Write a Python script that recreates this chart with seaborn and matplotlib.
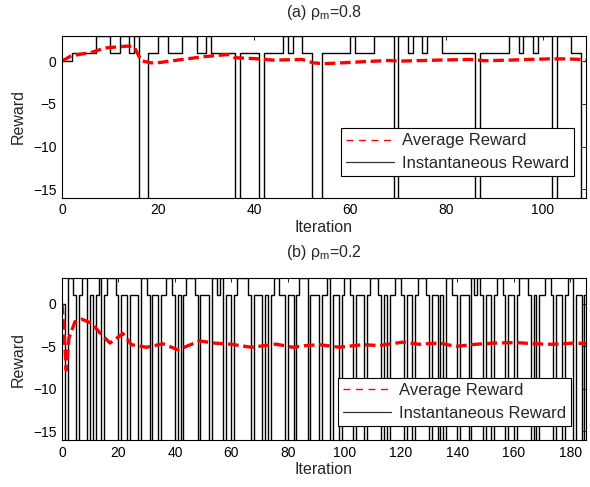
import matplotlib
matplotlib.use("Agg")
import matplotlib.pyplot as plt
import seaborn as sns
import pandas as pd
from matplotlib.lines import Line2D

sns.set_theme(style="white")
plt.rcParams["font.family"] = ["Liberation Sans", "DejaVu Sans"]
plt.rcParams["mathtext.fontset"] = "custom"
plt.rcParams["mathtext.rm"] = "Liberation Sans"
plt.rcParams["mathtext.it"] = "Liberation Sans"

B = -20  # off-scale low reward (clipped)

# ---- (a) rho_m = 0.8 ----
top_inst = [0, 0, 1, 1, 1, 1, 1, 3, 3, 3,
            1, 1, 3, 3, 1, 3, B, B, 1, 1,
            3, 3, 1, 1, 1, 3, 3, 3, 1, 1,
            3, 1, 1, 1, 1, 1, B, 1, 1, 1,
            1, B, 1, 1, 1, 1, 3, 1, 3, 3,
            1, 1, B, B, 1, 1, 1, 1, 1, 1,
            3, 1, 1, 1, 1, 3, 3, 3, 3, B,
            3, 3, 1, 3, 3, 1, 3, 3, 3, 1,
            1, 1, 1, 1, 1, 1, B, 1, 1, 1,
            1, 1, 1, 3, 3, 1, 3, 3, 1, 3,
            3, 3, B, 3, 3, 3, 1, 1, B]
top_avg_x = [0, 2, 6, 9, 13.5, 15, 16.5, 18.5, 20.5, 25, 30, 34.5, 36, 40, 44, 50,
             52.3, 54.5, 58, 65, 68, 70, 78, 85, 88, 93, 97, 101.5, 105, 108, 109]
top_avg_y = [0.0, 0.65, 1.0, 1.55, 1.76, 1.7, 0.05, -0.2, -0.15, 0.2, 0.55, 0.78, 0.4, 0.3, 0.12, 0.2,
             -0.2, -0.3, -0.2, 0.0, 0.08, 0.0, 0.12, 0.2, 0.05, 0.12, 0.2, 0.27, 0.27, 0.2, 0.0]

# ---- (b) rho_m = 0.2 ----
bot_inst = [0, B, 3, 3, 1, B, 1, 3, 3, B,
            1, B, 1, 3, B, 1, 3, 3, 3, 1,
            B, 1, 1, B, 1, 1, 1, B, 3, 3,
            1, B, 1, 1, B, 1, 1, 3, 3, 1,
            B, 1, B, 1, 3, 3, 3, 1, B, 1,
            1, 1, B, 3, 3, 1, 3, B, 1, 1,
            B, 1, 3, 3, 3, 3, 1, B, 1, 1,
            1, B, 1, B, 1, 3, 3, 1, 1, B,
            1, 1, B, 1, 3, 3, 3, B, 1, 1,
            1, B, 1, 1, 3, B, 1, 1, B, 1,
            3, 3, 1, B, 1, 1, 1, B, 1, 3,
            3, 3, 1, B, 1, B, 1, 1, 3, 3,
            1, B, 1, 1, B, 1, 3, 3, 3, 1,
            B, 1, 1, B, 1, B, 3, 3, 1, 1,
            B, 1, 1, 1, B, 3, 1, 3, 1, B,
            1, 1, B, 1, 3, 3, 1, B, 1, 1,
            B, 1, 3, 3, 3, 1, B, 1, B, 1,
            1, 3, 3, 1, B, 1, 1, B, 1, 3,
            3, B, 1, 1, B, 1]
bot_avg_x = [0, 0.8, 1.5, 2.5, 4.6, 7, 10.6, 13.4, 17, 21.6, 24.6, 29.9, 35.8, 41.1, 48.8,
             53.5, 60, 67, 75.9, 81.7, 86.5, 91.2, 98.2, 106.5, 112.4, 120.6, 126.5,
             133.6, 139.5, 146.5, 153.6, 160.7, 167.7, 173.6, 181.9, 186]
bot_avg_y = [0.0, -3.5, -7.8, -4.0, -2.1, -1.8, -2.3, -3.4, -4.6, -3.5, -4.8, -5.1, -4.7, -5.4, -4.35,
             -4.6, -4.75, -5.1, -4.74, -5.1, -4.9, -4.8, -5.1, -4.8, -4.9, -4.5, -4.75,
             -4.6, -5.0, -4.75, -4.6, -4.55, -4.7, -4.75, -4.6, -4.7]

fig = plt.figure(figsize=(5.9, 4.87), dpi=100)
ax1 = fig.add_axes([0.105, 0.594, 0.888, 0.333])
ax2 = fig.add_axes([0.105, 0.0965, 0.888, 0.332])

FS = 10


def draw(ax, inst, avg_x, avg_y, xmax, xticks, title, tpad, leg_anchor):
    n = len(inst)
    df = pd.DataFrame({"Iteration": list(range(n)) + [n], "Reward": list(inst) + [inst[-1]]})
    sns.lineplot(data=df, x="Iteration", y="Reward", ax=ax, color="black", lw=1.0,
                 drawstyle="steps-post", estimator=None, legend=False)
    da = pd.DataFrame({"Iteration": avg_x, "Reward": avg_y})
    sns.lineplot(data=da, x="Iteration", y="Reward", ax=ax, color="red", lw=2.4,
                 linestyle=(0, (3.2, 1.4)), estimator=None, legend=False)
    ax.set_xlim(0, xmax)
    ax.set_ylim(-16, 3)
    ax.set_xticks(xticks)
    ax.set_yticks([-15, -10, -5, 0])
    ax.tick_params(direction="in", top=True, right=True, length=3, width=0.6,
                   labelsize=FS, pad=4, colors="black")
    for s in ax.spines.values():
        s.set_color("black")
        s.set_linewidth(0.8)
    ax.set_xlabel("Iteration", fontsize=FS + 1.5, labelpad=2)
    ax.set_ylabel("Reward", fontsize=FS + 1.5, labelpad=5)
    ax.set_title(title, fontsize=FS + 1.5, pad=tpad)
    handles = [Line2D([], [], color="red", lw=1.0, linestyle=(0, (5, 4))),
               Line2D([], [], color="#333333", lw=0.9)]
    leg = ax.legend(handles, ["Average Reward", "Instantaneous Reward"], loc="lower right",
                    bbox_to_anchor=leg_anchor, frameon=True, fancybox=False, framealpha=1,
                    edgecolor="black", fontsize=FS + 2, handlelength=2.9, borderpad=0.3,
                    labelspacing=0.45, handletextpad=0.45, borderaxespad=0)
    leg.get_frame().set_linewidth(0.8)


draw(ax1, top_inst, top_avg_x, top_avg_y, 109, list(range(0, 101, 20)),
     "(a) ρ$_\\mathrm{m}$=0.8", 13, (0.977, 0.134))
draw(ax2, bot_inst, bot_avg_x, bot_avg_y, 185.5, list(range(0, 181, 20)),
     "(b) ρ$_\\mathrm{m}$=0.2", 15, (0.971, 0.088))

fig.savefig("out.png", dpi=100)
